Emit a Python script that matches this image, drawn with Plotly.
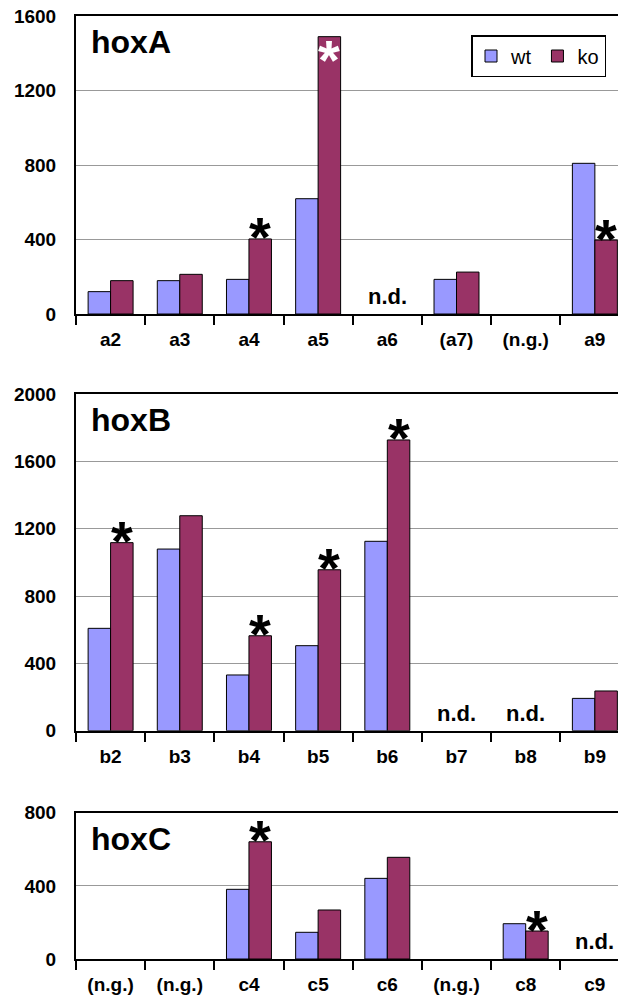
import plotly.graph_objects as go

# ---------------- data ----------------
A_cats = ["a2", "a3", "a4", "a5", "a6", "(a7)", "(n.g.)", "a9"]
A_wt = [120, 179, 186, 619, None, 186, None, 809]
A_ko = [179, 213, 403, 1489, None, 225, None, 397]
A_star = [0, 0, 1, 2, 0, 0, 0, 1]          # 1 = black star above ko, 2 = white star inside ko
A_nd = [0, 0, 0, 0, 1, 0, 0, 0]

B_cats = ["b2", "b3", "b4", "b5", "b6", "b7", "b8", "b9"]
B_wt = [608, 1079, 331, 505, 1125, None, None, 192]
B_ko = [1117, 1277, 564, 956, 1727, None, None, 236]
B_star = [1, 0, 1, 1, 1, 0, 0, 0]
B_nd = [0, 0, 0, 0, 0, 1, 1, 0]

C_cats = ["(n.g.)", "(n.g.)", "c4", "c5", "c6", "(n.g.)", "c8", "c9"]
C_wt = [None, None, 381, 146, 441, None, 193, None]
C_ko = [None, None, 641, 268, 556, None, 153, None]
C_star = [0, 0, 1, 0, 0, 0, 1, 0]
C_nd = [0, 0, 0, 0, 0, 0, 0, 1]

A_ticks = [0, 400, 800, 1200, 1600]
B_ticks = [0, 400, 800, 1200, 1600, 2000]
C_ticks = [0, 400, 800]

panels = [
    ("hoxA", A_cats, A_wt, A_ko, A_star, A_nd, A_ticks),
    ("hoxB", B_cats, B_wt, B_ko, B_star, B_nd, B_ticks),
    ("hoxC", C_cats, C_wt, C_ko, C_star, C_nd, C_ticks),
]

WT_COLOR = "#9999FF"
KO_COLOR = "#993366"
FONT = "Liberation Sans, Arial, sans-serif"

# page body has an 8px default margin; the figure is sized to fill the rest
PAGE_OFF = 8
W, H = 618, 994
ML, MR, MT, MB = 68, 0, 8, 43
plot_h = H - MT - MB

def frac(ypx):
    # ypx: pixel row in the browser window
    return (H - MB - (ypx - PAGE_OFF)) / plot_h

# pixel extents (window coords) of the three panels (top, bottom)
panel_px = [(16, 314), (394, 730.7), (812.7, 959)]

fig = go.Figure()
annotations = []
layout = {}
GROUP = 1 - 0.35
off = GROUP / 4

for i, (name, cats, wt, ko, star, nd, ticks) in enumerate(panels):
    n = i + 1
    xa = "x" if n == 1 else f"x{n}"
    ya = "y" if n == 1 else f"y{n}"
    xs = list(range(len(cats)))
    fig.add_trace(go.Bar(x=xs, y=wt, name="wt", marker=dict(color=WT_COLOR, line=dict(color="black", width=1)),
                         xaxis=xa, yaxis=ya, showlegend=(n == 1), legendgroup="wt"))
    fig.add_trace(go.Bar(x=xs, y=ko, name="ko", marker=dict(color=KO_COLOR, line=dict(color="black", width=1)),
                         xaxis=xa, yaxis=ya, showlegend=(n == 1), legendgroup="ko"))
    top, bot = panel_px[i]
    xkey = "xaxis" if n == 1 else f"xaxis{n}"
    ykey = "yaxis" if n == 1 else f"yaxis{n}"
    layout[xkey] = dict(
        domain=[0, 1], anchor=ya, range=[-0.5, len(cats) - 0.55],
        tickmode="array", tickvals=xs, ticktext=cats, ticks="",
        tickfont=dict(family=FONT, size=19, color="black", weight="bold"),
        showline=True, linecolor="black", linewidth=2, mirror=True,
        showgrid=False, zeroline=False, ticklabelstandoff=7, ticklabeloverflow="allow",
        minor=dict(tickmode="array", tickvals=[k - 0.5 for k in range(len(cats) + 1)],
                   ticks="outside", ticklen=9, tickwidth=1.5, tickcolor="black", showgrid=False),
    )
    layout[ykey] = dict(
        domain=[frac(bot), frac(top)], anchor=xa, range=[0, ticks[-1]],
        tickmode="array", tickvals=ticks, ticks="",
        tickfont=dict(family=FONT, size=19, color="black", weight="bold"),
        showline=True, linecolor="black", linewidth=2,
        showgrid=True, gridcolor="#999999", gridwidth=1, zeroline=False,
        ticklabelstandoff=14, ticklabeloverflow="allow",
    )
    # panel title
    annotations.append(dict(text=name, xref=f"{xa} domain", yref=f"{ya} domain", x=(89 - 76) / (W - ML - MR),
                            y=1, xanchor="left", yanchor="top", yshift=-6, showarrow=False,
                            font=dict(family=FONT, size=32, color="black", weight="bold")))
    for k in xs:
        if star[k]:
            white = star[k] == 2
            annotations.append(dict(text="*", xref=xa, yref=ya, x=k + off, y=ko[k], xanchor="center",
                                    yanchor="middle", yshift=(-23 if white else 2), showarrow=False,
                                    font=dict(family=FONT, size=56, color="white" if white else "black",
                                              weight="bold")))
        if nd[k]:
            annotations.append(dict(text="n.d.", xref=xa, yref=ya, x=k, y=0, xanchor="center",
                                    yanchor="bottom", yshift=3, showarrow=False,
                                    font=dict(family=FONT, size=22, color="black", weight="bold")))

fig.update_layout(
    **layout,
    annotations=annotations,
    width=W, height=H,
    margin=dict(l=ML, r=MR, t=MT, b=MB, autoexpand=False),
    paper_bgcolor="white", plot_bgcolor="white",
    barmode="group", bargap=0.35, bargroupgap=0,
    showlegend=True,
    legend=dict(orientation="h", x=(471 - 76) / (W - ML - MR), xanchor="left",
                y=frac(35), yanchor="top", bordercolor="black", borderwidth=1.5,
                bgcolor="white", font=dict(family=FONT, size=20, color="black"),
                itemwidth=30, tracegroupgap=0),
    font=dict(family=FONT),
)

fig.write_html("out.html")
